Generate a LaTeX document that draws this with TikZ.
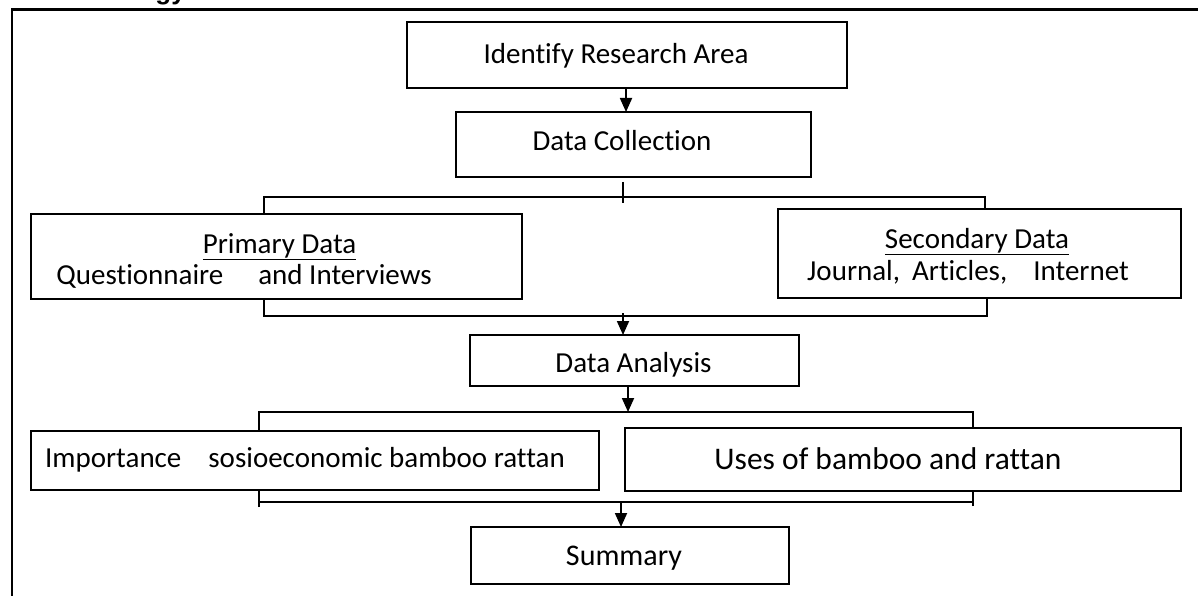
\documentclass[tikz,border=0pt]{standalone}
\usepackage{fontspec}
\setmainfont{Carlito}[Ligatures=NoCommon]
\newfontfamily\titlefont{Liberation Sans}
\usetikzlibrary{arrows.meta}
\begin{document}
\begin{tikzpicture}[x=1pt,y=-1pt,
  box/.style={draw, line width=1.8pt, rectangle, inner sep=0pt, outer sep=0pt},
  lbl/.style={inner sep=0pt, outer sep=0pt, anchor=base, font=\fontsize{29}{34}\selectfont},
  conn/.style={line width=1.8pt},
  arr/.style={line width=1.8pt, -{Triangle[width=12pt,length=14pt]}}
]
\useasboundingbox (0,0) rectangle (1198,596);

% frame and clipped title
\node[anchor=base east, inner sep=0pt, font=\titlefont\bfseries\fontsize{26}{30}\selectfont] (title) at (186,-0.5) {Methodology};
\draw[line width=2.5pt] (12,596) -- (12,9.5) -- (1198,9.5);

% boxes
\node[box, minimum width=440pt, minimum height=66pt] (id) at (627,55) {};
\node[box, minimum width=355pt, minimum height=65pt] (dc) at (633.5,144.5) {};
\node[box, minimum width=491pt, minimum height=85pt] (pd) at (276.5,256.5) {};
\node[box, minimum width=403pt, minimum height=89pt] (sd) at (979.5,253.5) {};
\node[box, minimum width=329pt, minimum height=51pt] (da) at (634.5,360.5) {};
\node[box, minimum width=568pt, minimum height=59pt] (imp) at (315,460.5) {};
\node[box, minimum width=556pt, minimum height=63pt] (uses) at (903,459.5) {};
\node[box, minimum width=318pt, minimum height=57pt] (sum) at (630,555.5) {};

% texts
\node[lbl] (idt) at (616,64) {Identify Research Area};
\node[lbl] (dct) at (622,151) {Data Collection};
\node[lbl] (pdt) at (279.5,253) {\underline{Primary Data}};
\node[lbl] (pdl) at (244,284) {Questionnaire\hspace{35pt}and Interviews};
\node[lbl] (sdt) at (977,248) {\underline{Secondary Data}};
\node[lbl] (sdl) at (968,280) {Journal,\hspace{12pt}Articles,\hspace{26pt}Internet};
\node[lbl] (dat) at (633.5,372) {Data Analysis};
\node[lbl] (impt) at (305,467) {Importance\hspace{27pt}sosioeconomic bamboo rattan};
\node[lbl, font=\fontsize{31.5}{36}\selectfont] (uset) at (888,469) {Uses of bamboo and rattan};
\node[lbl, font=\fontsize{30}{35}\selectfont] (sumt) at (624,565) {Summary};

% helper coordinates
\coordinate (xa) at (626,0);
\coordinate (xt) at (623,0);
\coordinate (xl1) at (264,0);
\coordinate (xr1) at (985,0);
\coordinate (xr2) at (987,0);
\coordinate (yb1) at (0,197);
\coordinate (yb2) at (0,316);
\coordinate (xd) at (628,0);
\coordinate (yb3) at (0,412);
\coordinate (xl3) at (259,0);
\coordinate (xr3) at (973,0);
\coordinate (yb4) at (0,502);
\coordinate (xs) at (621,0);

% connectors
\draw[arr] (id.south -| xa) -- (dc.north -| xa);
\draw[conn] ([yshift=-5pt]dc.south -| xt) -- ++(0,21);
\draw[conn] (pd.north -| xl1) |- (yb1 -| xr1) -- (sd.north -| xr1);
\draw[conn] (pd.south -| xl1) |- (yb2 -| xr2) -- (sd.south -| xr2);
\draw[arr] ([yshift=3pt]yb2 -| xt) -- (da.north -| xt);
\draw[arr] (da.south -| xd) -- (yb3 -| xd);
\draw[conn] (imp.north -| xl3) |- (yb3 -| xr3) -- (uses.north -| xr3);
\draw[conn] ([yshift=-17pt]imp.south -| xl3) -- (imp.south -| xl3);
\draw[conn] ([yshift=-15pt]uses.south -| xr3) -- (uses.south -| xr3);
\draw[conn] (yb4 -| xl3) -- (yb4 -| xr3);
\draw[arr] (yb4 -| xs) -- (sum.north -| xs);
\end{tikzpicture}
\end{document}
